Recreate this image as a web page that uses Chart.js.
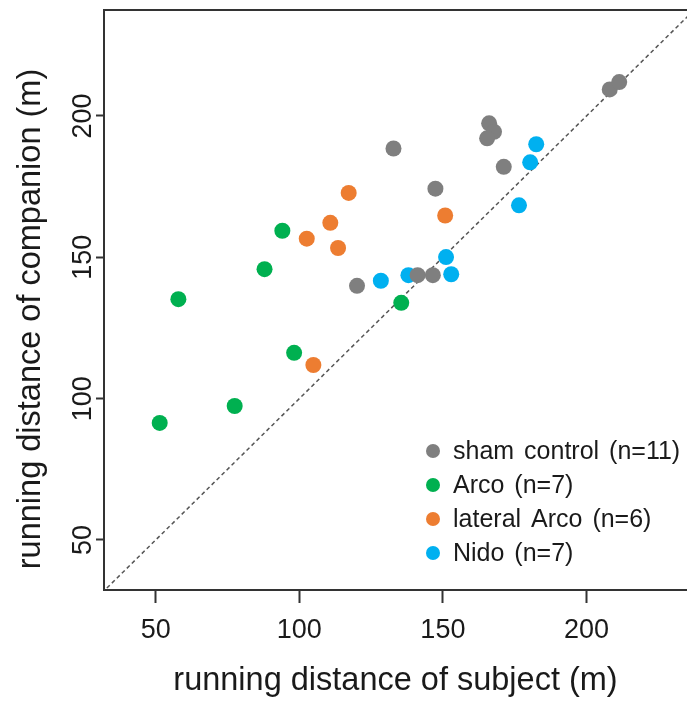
<!DOCTYPE html>
<html>
<head>
<meta charset="utf-8">
<script src="https://cdn.jsdelivr.net/npm/chart.js@4/dist/chart.umd.min.js"></script>
<style>
  html, body { margin: 0; padding: 0; background: #fff; }
  #wrap { width: 687px; height: 703px; }
</style>
</head>
<body>
<div id="wrap"><canvas id="plot" width="687" height="703"></canvas></div>
<script>
// running distances (m): subject on x, companion on y
const shamX = [132.8, 120.1, 141.2, 146.5, 147.4, 166.1, 167.8, 165.4, 171.2, 208.1, 211.4];
const shamY = [188.5, 139.9, 143.7, 143.7, 174.3, 197.4, 194.4, 192.1, 182.0, 209.4, 212.0];
const arcoX = [51.4, 57.9, 77.5, 87.9, 94.1, 98.2, 135.5];
const arcoY = [91.4, 135.2, 97.4, 145.8, 159.4, 116.2, 133.9];
const latArcoX = [102.6, 104.9, 110.8, 113.5, 117.2, 150.8];
const latArcoY = [156.6, 111.9, 162.2, 153.3, 172.8, 164.8];
const nidoX = [128.4, 138.0, 151.1, 152.9, 176.5, 180.4, 182.5];
const nidoY = [141.7, 143.7, 150.1, 144.0, 168.4, 183.6, 190.0];

const groupLabels = ['sham control (n=11)', 'Arco (n=7)', 'lateral Arco (n=6)', 'Nido (n=7)'];
const groupColors = ['#7f7f7f', '#00b050', '#ed7d31', '#00b0f0'];

const xTicks = [50, 100, 150, 200];
const yTicks = [50, 100, 150, 200];
const xRange = [32, 235];
const yRange = [32.3, 237.5];
const unityLine = [0, 300]; // y = x

const xTitle = 'running distance of subject (m)';
const yTitle = 'running distance of companion (m)';

const FONT = "'Liberation Sans', Arial, sans-serif";
const INK = '#1a1a1a';
const AXIS = '#333';

const pairs = (xs, ys) => xs.map((x, i) => ({ x, y: ys[i] }));

const groups = [[shamX, shamY], [arcoX, arcoY], [latArcoX, latArcoY], [nidoX, nidoY]];
const datasets = groups.map((g, i) => ({
    type: 'scatter',
    label: groupLabels[i],
    data: pairs(g[0], g[1]),
    backgroundColor: groupColors[i],
    borderWidth: 0,
    pointRadius: 8,
    pointHoverRadius: 8,
    order: i
}));
datasets.push({
    type: 'line',
    label: 'unity',
    data: unityLine.map(v => ({ x: v, y: v })),
    borderColor: '#555',
    borderWidth: 1.5,
    borderDash: [4, 3],
    pointRadius: 0,
    fill: false,
    order: 10
});

// legend inside the plot (lower right) and the rotated y title
const extras = {
    id: 'extras',
    afterDraw(chart, args, opts) {
        const ctx = chart.ctx;
        ctx.save();
        ctx.font = `${opts.size}px ${FONT}`;
        ctx.wordSpacing = '3px';
        ctx.textBaseline = 'middle';
        ctx.textAlign = 'left';
        groupLabels.forEach((lab, i) => {
            const y = opts.top + i * opts.step;
            ctx.fillStyle = groupColors[i];
            ctx.beginPath();
            ctx.arc(opts.left, y, opts.r, 0, Math.PI * 2);
            ctx.fill();
            ctx.fillStyle = INK;
            ctx.fillText(lab, opts.left + opts.gap, y + 1);
        });
        ctx.restore();

        ctx.save();
        ctx.translate(opts.yTitleX, opts.yTitleY);
        ctx.rotate(-Math.PI / 2);
        ctx.font = `${opts.titleSize}px ${FONT}`;
        ctx.fillStyle = INK;
        ctx.textAlign = 'center';
        ctx.textBaseline = 'middle';
        ctx.fillText(yTitle, 0, 0);
        ctx.restore();
    }
};

new Chart(document.getElementById('plot'), {
    data: { datasets },
    plugins: [extras],
    options: {
        responsive: false,
        devicePixelRatio: 1,
        animation: false,
        events: [],
        layout: { padding: 0, autoPadding: false },
        plugins: {
            legend: { display: false },
            tooltip: { enabled: false },
            extras: { left: 433, top: 451, step: 34, r: 7, gap: 20, size: 25, titleSize: 32.5, yTitleX: 31, yTitleY: 319 }
        },
        scales: {
            x: {
                type: 'linear',
                position: 'bottom',
                min: xRange[0], max: xRange[1],
                afterBuildTicks: s => { s.ticks = xTicks.map(v => ({ value: v })); },
                afterFit: s => { s.height = 113; },
                border: { display: true, color: AXIS, width: 2 },
                grid: { display: true, drawOnChartArea: false, drawTicks: true, tickLength: 13, tickWidth: 2, tickColor: AXIS },
                ticks: { color: INK, padding: 11, font: { family: FONT, size: 27 }, maxRotation: 0 },
                title: { display: true, text: xTitle, color: INK, font: { family: FONT, size: 32.5 }, padding: { top: 0, bottom: 2 } }
            },
            x2: {
                type: 'linear',
                position: 'top',
                min: xRange[0], max: xRange[1],
                afterBuildTicks: s => { s.ticks = []; },
                afterFit: s => { s.height = 10; },
                border: { display: true, color: AXIS, width: 2 },
                grid: { display: false, drawTicks: false },
                ticks: { display: false }
            },
            y: {
                type: 'linear',
                position: 'left',
                min: yRange[0], max: yRange[1],
                afterBuildTicks: s => { s.ticks = yTicks.map(v => ({ value: v })); },
                afterFit: s => { s.width = 104; },
                border: { display: true, color: AXIS, width: 2 },
                grid: { display: true, drawOnChartArea: false, drawTicks: true, tickLength: 8, tickWidth: 2, tickColor: AXIS },
                ticks: { color: INK, padding: -10, crossAlign: 'center', minRotation: 90, maxRotation: 90, font: { family: FONT, size: 27 } }
            }
        }
    }
});
</script>
</body>
</html>
